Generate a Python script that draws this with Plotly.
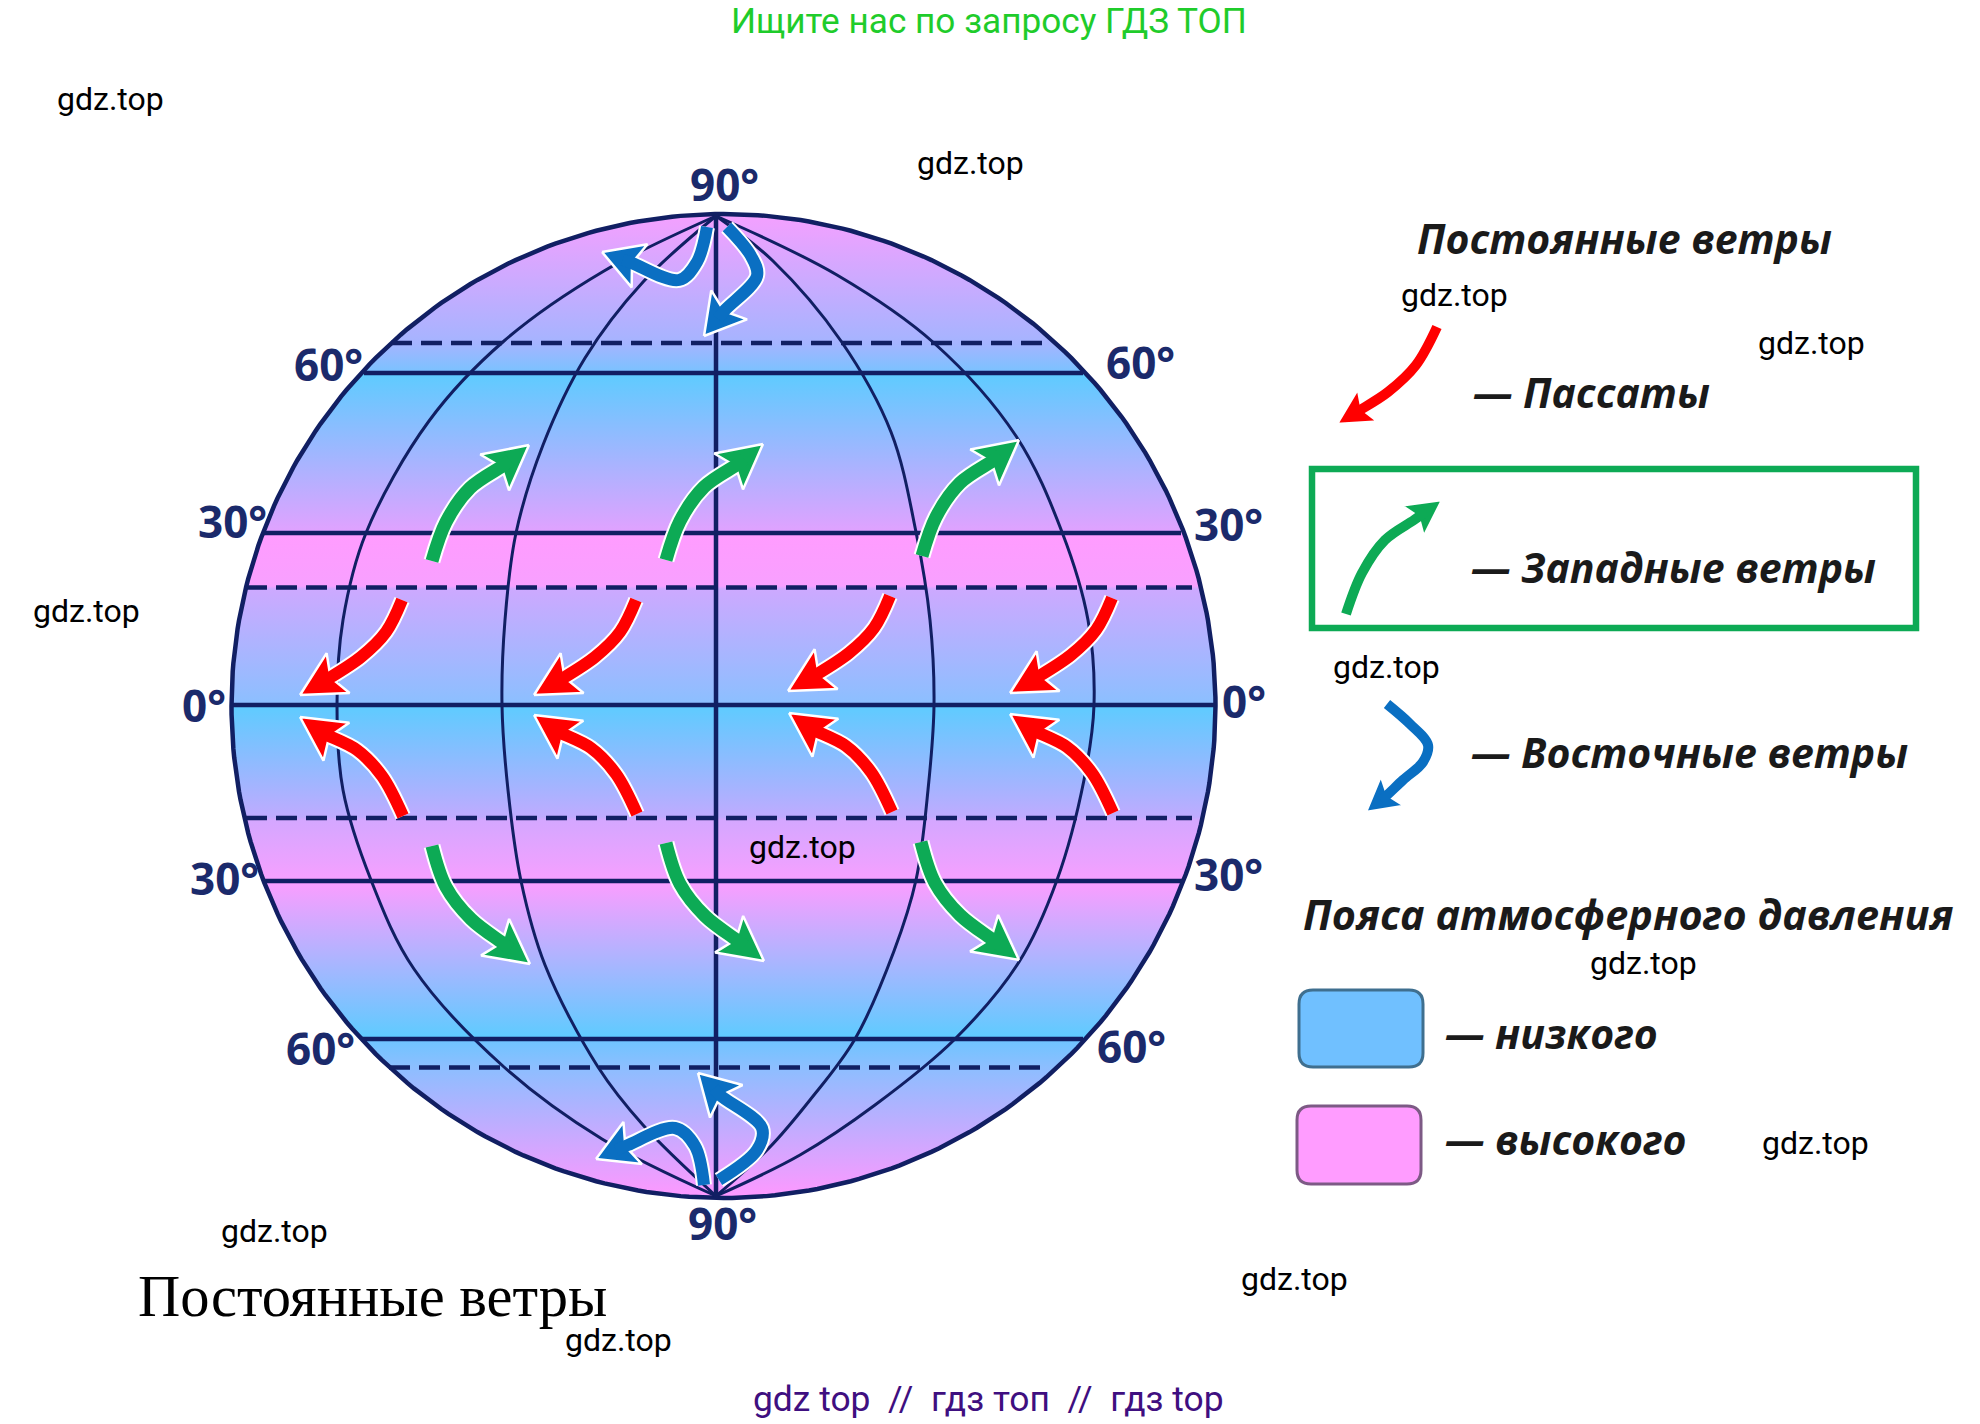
import numpy as np
import plotly.graph_objects as go

# --- CONFIGURATION ---
WIDTH = 1980
HEIGHT = 1424
NAVY = "#111F63"
LABEL_NAVY = "#1B2A6B"
RED = "#FF0000"
GREEN = "#0DAA55"
BLUE = "#0A6FC2"

# globe outline
GLOBE_CX, GLOBE_CY, GLOBE_R = 723.5, 706, 492

# vertical colour stops of the pressure belts
BAND_Y = [214, 343, 371, 375, 531, 535, 586, 589, 703, 707, 817, 820, 879, 883, 1037, 1041, 1067, 1198]
BAND_COLORS = ["#F5A0FF", "#A5B4FF", "#7CC2FF", "#5FCBFF", "#E0A2FF", "#FF9CFF", "#F8A0FF", "#CDA9FF",
               "#8CBFFF", "#5FCBFF", "#BFABFF", "#D4A7FF", "#F5A0FF", "#FA9EFF", "#5FCBFF", "#70C4FF",
               "#8CBEFF", "#FF98FF"]

# parallels: y, left x, right x
SOLID_Y = [373, 533, 705, 881, 1039]
SOLID_X0 = [364, 264, 231, 264, 361]
SOLID_X1 = [1083, 1181, 1216, 1183, 1083]
DASHED_Y = [343, 587.5, 818, 1067.5]
DASHED_X0 = [391, 246, 246, 389]
DASHED_X1 = [1048, 1192, 1192, 1048]

# meridians
AXIS_X = 716
MERIDIAN_1_X = [716, 604, 504, 429, 366, 343, 337, 343, 371, 414, 504, 602, 716]
MERIDIAN_1_Y = [216, 271, 341, 421, 533, 620, 705, 790, 880, 969, 1067, 1139, 1196]
MERIDIAN_2_X = [716, 643, 585, 543, 516, 505, 502, 508, 521, 545, 598, 643, 716]
MERIDIAN_2_Y = [216, 282, 358, 445, 533, 620, 705, 790, 881, 965, 1067, 1125, 1196]
MERIDIAN_3_X = [716, 773, 841, 891, 916, 930, 934, 928, 916, 894, 855, 810, 769, 716]
MERIDIAN_3_Y = [216, 261, 341, 432, 532, 620, 705, 790, 880, 951, 1039, 1100, 1148, 1196]
MERIDIAN_4_X = [716, 837, 934, 1016, 1062, 1088, 1094, 1084, 1057, 1019, 955, 875, 800, 716]
MERIDIAN_4_Y = [216, 275, 343, 436, 532, 620, 705, 780, 880, 962, 1039, 1105, 1155, 1196]

# wind arrows: one path per family (last point is the tip), then where the copies sit
GREEN_N_X = [432, 446, 470, 504, 529]
GREEN_N_Y = [561, 522, 488, 465, 445]
GREEN_N_DX = [0, 234, 490]
GREEN_N_DY = [0, -1, -5]
GREEN_S_X = [432, 446, 471, 504, 530]
GREEN_S_Y = [846, 887, 919, 944, 964]
GREEN_S_DX = [0, 234, 489]
GREEN_S_DY = [0, -3, -4]
RED_N_X = [402, 386, 361, 326, 300]
RED_N_Y = [600, 632, 657, 680, 695]
RED_N_DX = [0, 234, 488, 710]
RED_N_DY = [0, 0, -4, -2]
RED_S_X = [403, 382, 357, 325, 300]
RED_S_Y = [816, 776, 750, 734, 717]
RED_S_DX = [0, 234, 489, 710]
RED_S_DY = [0, -2, -4, -3]

# polar easterlies
BLUE_PATHS_X = [
    [707, 697, 679, 632, 602],
    [727, 751, 757, 725, 704],
    [704, 695, 675, 628, 596],
    [719, 757, 762, 721, 698],
]
BLUE_PATHS_Y = [
    [227, 262, 280, 263, 252],
    [227, 256, 276, 310, 336],
    [1185, 1146, 1128, 1145, 1159],
    [1180, 1150, 1128, 1096, 1073],
]

# legend arrows
LEGEND_RED_X = [1437, 1416, 1388, 1360, 1337]
LEGEND_RED_Y = [327, 365, 392, 410, 424]
LEGEND_GREEN_X = [1346, 1362, 1385, 1414, 1442]
LEGEND_GREEN_Y = [614, 573, 540, 520, 500]
LEGEND_BLUE_X = [1387, 1410, 1428, 1423, 1403, 1385, 1366]
LEGEND_BLUE_Y = [704, 724, 745, 762, 780, 797, 812]

# labels
DEGREE_TEXT = ["90°", "60°", "60°", "30°", "30°", "0°", "0°", "30°", "30°", "60°", "60°", "90°"]
DEGREE_X = [724, 328, 1140, 232, 1228, 204, 1244, 224, 1228, 320, 1131, 722]
DEGREE_Y = [184, 364, 362, 521, 524, 705, 701, 878, 874, 1048, 1046, 1223]

WATERMARK_X = [110, 970, 1454, 1811, 86, 1386, 802, 1643, 1815, 274, 1294, 618]
WATERMARK_Y = [99, 163, 295, 343, 611, 667, 847, 963, 1143, 1231, 1279, 1340]

LEGEND_TEXT = ["Постоянные ветры", "— Пассаты", "— Западные ветры", "— Восточные ветры",
               "Пояса атмосферного давления", "— низкого", "— высокого"]
LEGEND_TEXT_X = [1415, 1471, 1469, 1469, 1301, 1443, 1443]
LEGEND_TEXT_Y = [238, 392, 567, 752, 914, 1033, 1139]
LEGEND_TEXT_SIZE = [41, 41, 41, 41, 41.4, 41, 41]

# legend swatches: x0, x1, y0, y1
SWATCH_X0 = [1299, 1297]
SWATCH_X1 = [1423, 1421]
SWATCH_Y0 = [990, 1106]
SWATCH_Y1 = [1067, 1184]
SWATCH_FILL = ["#70C0FF", "#FF9CFF"]
SWATCH_LINE = ["#3F6F8F", "#7D5A85"]


def add_line(fig, x, y, color, width, dash="solid", spline=False):
    fig.add_trace(go.Scatter(
        x=x, y=y, mode="lines", hoverinfo="skip",
        line=dict(color=color, width=width, dash=dash, shape="spline" if spline else "linear", smoothing=1.0),
    ))


def add_arrow(fig, x, y, color, width=12, head_len=44, head_half=23):
    """Shaft through all points but the last, arrow head ending on the last one."""
    tip = np.array([x[-1], y[-1]], dtype=float)
    back = np.array([x[-2], y[-2]], dtype=float)
    d = (tip - back) / np.linalg.norm(tip - back)
    n = np.array([-d[1], d[0]])
    barb_a = tip - head_len * d + head_half * n
    barb_b = tip - head_len * d - head_half * n
    notch = tip - 0.8 * head_len * d
    head = np.array([tip, barb_a, notch, barb_b, tip])

    # run the shaft a little way into the head so no gap shows
    inner = tip - 0.55 * head_len * d
    shaft_x = list(x[:-1]) + [inner[0]]
    shaft_y = list(y[:-1]) + [inner[1]]

    # white halo first, then the colour
    add_line(fig, shaft_x, shaft_y, "white", width + 4, spline=True)
    fig.add_trace(go.Scatter(
        x=head[:, 0], y=head[:, 1], mode="lines", fill="toself", fillcolor=color, hoverinfo="skip",
        line=dict(color="white", width=2.5),
    ))
    add_line(fig, shaft_x, shaft_y, color, width, spline=True)


def add_arrow_family(fig, x, y, dxs, dys, color, width):
    for dx, dy in zip(dxs, dys):
        add_arrow(fig, [v + dx for v in x], [v + dy for v in y], color, width)


def rounded_box(x0, x1, y0, y1, r=14):
    return (f"M{x0 + r},{y0} L{x1 - r},{y0} Q{x1},{y0} {x1},{y0 + r} L{x1},{y1 - r} Q{x1},{y1} {x1 - r},{y1} "
            f"L{x0 + r},{y1} Q{x0},{y1} {x0},{y1 - r} L{x0},{y0 + r} Q{x0},{y0} {x0 + r},{y0} Z")


fig = go.Figure()

# 1. Globe with the belt gradient
theta = np.linspace(0, 2 * np.pi, 361)
circle_x = GLOBE_CX + GLOBE_R * np.cos(theta)
circle_y = GLOBE_CY + GLOBE_R * np.sin(theta)
span = BAND_Y[-1] - BAND_Y[0]
colorscale = [[(y - BAND_Y[0]) / span, c] for y, c in zip(BAND_Y, BAND_COLORS)]
fig.add_trace(go.Scatter(
    x=circle_x, y=circle_y, mode="lines", fill="toself", hoverinfo="skip",
    line=dict(color=NAVY, width=4.5),
    fillgradient=dict(type="vertical", colorscale=colorscale, start=BAND_Y[0], stop=BAND_Y[-1]),
))

# 2. Grid
for mx, my in [(MERIDIAN_1_X, MERIDIAN_1_Y), (MERIDIAN_2_X, MERIDIAN_2_Y),
               (MERIDIAN_3_X, MERIDIAN_3_Y), (MERIDIAN_4_X, MERIDIAN_4_Y)]:
    add_line(fig, mx, my, NAVY, 3, spline=True)
add_line(fig, [AXIS_X, AXIS_X], [GLOBE_CY - GLOBE_R, GLOBE_CY + GLOBE_R], NAVY, 4.5)
for y, x0, x1 in zip(SOLID_Y, SOLID_X0, SOLID_X1):
    add_line(fig, [x0, x1], [y, y], NAVY, 4.5)
for y, x0, x1 in zip(DASHED_Y, DASHED_X0, DASHED_X1):
    add_line(fig, [x0, x1], [y, y], NAVY, 4.5, dash="21px,9px")

# 3. Winds
add_arrow_family(fig, GREEN_N_X, GREEN_N_Y, GREEN_N_DX, GREEN_N_DY, GREEN, 13)
add_arrow_family(fig, GREEN_S_X, GREEN_S_Y, GREEN_S_DX, GREEN_S_DY, GREEN, 13)
add_arrow_family(fig, RED_N_X, RED_N_Y, RED_N_DX, RED_N_DY, RED, 12)
add_arrow_family(fig, RED_S_X, RED_S_Y, RED_S_DX, RED_S_DY, RED, 12)
for bx, by in zip(BLUE_PATHS_X, BLUE_PATHS_Y):
    add_arrow(fig, bx, by, BLUE, 12, head_len=40, head_half=23)

# 4. Legend
add_arrow(fig, LEGEND_RED_X, LEGEND_RED_Y, RED, 10, head_len=36, head_half=19)
add_arrow(fig, LEGEND_GREEN_X, LEGEND_GREEN_Y, GREEN, 10, head_len=36, head_half=19)
add_arrow(fig, LEGEND_BLUE_X, LEGEND_BLUE_Y, BLUE, 10, head_len=34, head_half=19)

shapes = [dict(type="rect", x0=1312, x1=1916, y0=469, y1=628, line=dict(color=GREEN, width=6.5))]
for x0, x1, y0, y1, fc, lc in zip(SWATCH_X0, SWATCH_X1, SWATCH_Y0, SWATCH_Y1, SWATCH_FILL, SWATCH_LINE):
    shapes.append(dict(type="path", path=rounded_box(x0, x1, y0, y1), fillcolor=fc, line=dict(color=lc, width=3)))

# 5. Text
annotations = []


def add_text(text, x, y, size, color, family, anchor="center", bold=False, italic=False):
    annotations.append(dict(
        text=text, x=x, y=y, xref="x", yref="y", showarrow=False, xanchor=anchor, yanchor="middle",
        font=dict(size=size, color=color, family=family, weight="bold" if bold else "normal",
                  style="italic" if italic else "normal"),
    ))


for text, x, y in zip(DEGREE_TEXT, DEGREE_X, DEGREE_Y):
    add_text(text, x, y, 44, LABEL_NAVY, "Open Sans", bold=True)
for x, y in zip(WATERMARK_X, WATERMARK_Y):
    add_text("gdz.top", x, y, 32, "black", "Roboto")
for text, x, y, size in zip(LEGEND_TEXT, LEGEND_TEXT_X, LEGEND_TEXT_Y, LEGEND_TEXT_SIZE):
    add_text(text, x, y, size, "#1A1A1A", "Open Sans", anchor="left", bold=True, italic=True)

add_text("Ищите нас по запросу ГДЗ ТОП", 989, 20.5, 35.2, "#1FCC2B", "Roboto")
add_text("Постоянные ветры", 372, 1296, 58.5, "black", "Liberation Serif")
add_text("gdz top &nbsp;//&nbsp; гдз топ &nbsp;//&nbsp; гдз top", 988, 1399, 35.4, "#3F0F80", "Roboto")

fig.update_layout(
    width=WIDTH, height=HEIGHT, margin=dict(l=0, r=0, t=0, b=0),
    paper_bgcolor="white", plot_bgcolor="white", showlegend=False,
    xaxis=dict(range=[0, WIDTH], visible=False),
    yaxis=dict(range=[HEIGHT, 0], visible=False),
    shapes=shapes, annotations=annotations,
)

fig.write_html("out.html", config=dict(displayModeBar=False), post_script="document.body.style.margin='0';")
